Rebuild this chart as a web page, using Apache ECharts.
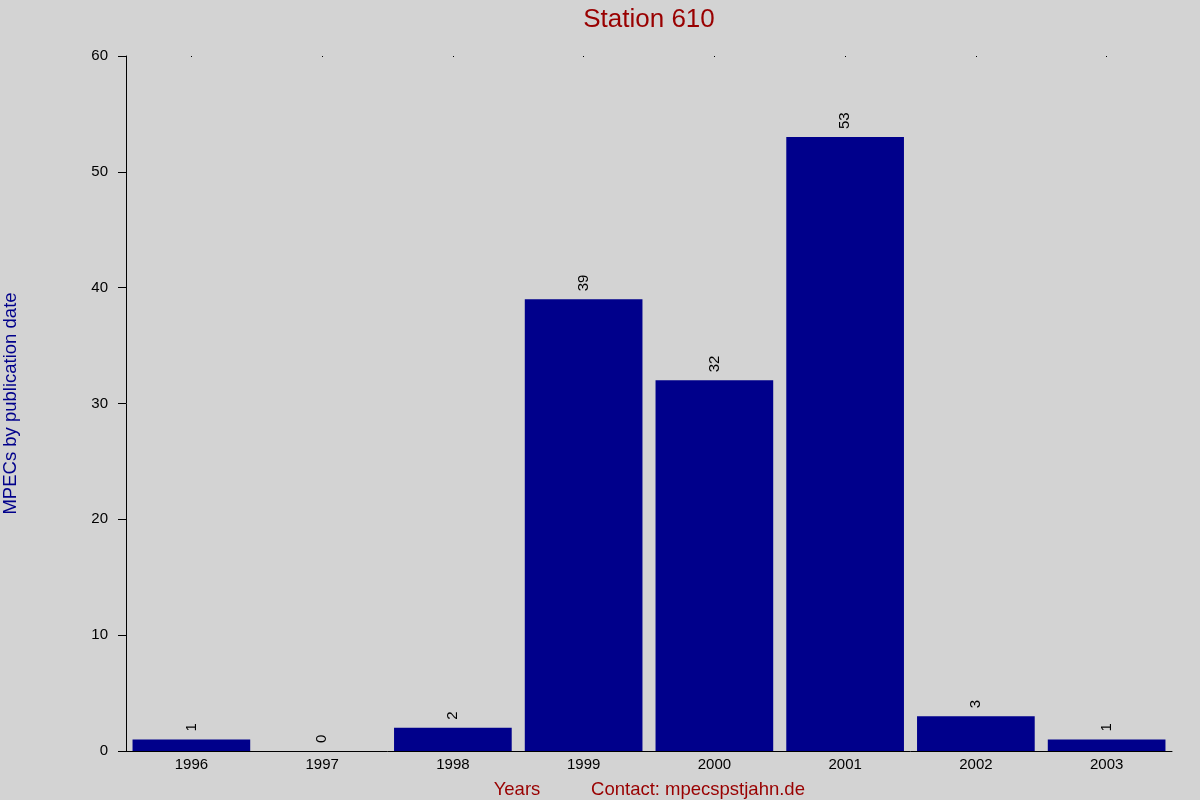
<!DOCTYPE html>
<html><head><meta charset="utf-8">
<script src="https://cdn.jsdelivr.net/npm/echarts@6/dist/echarts.min.js"></script>
<style>html,body{margin:0;padding:0;background:#d3d3d3}#c{width:1200px;height:800px}</style>
</head><body><div id="c"></div>
<script>
const categories = ['1996','1997','1998','1999','2000','2001','2002','2003'];
const values = [1, 0, 2, 39, 32, 53, 3, 1];
const titleText = 'Station 610';
const yName = 'MPECs by publication date';
const xName = 'Years';
const contact = 'Contact: mpecspstjahn.de';

const FF = 'Liberation Sans, Arial, sans-serif';
const chart = echarts.init(document.getElementById('c'));
chart.setOption({
  backgroundColor: '#d3d3d3',
  animation: false,
  textStyle: {fontFamily: FF},
  title: [
    {text: titleText, left: 644, top: 2, textAlign: 'center', textStyle: {color: '#990000', fontSize: 26, fontWeight: 'normal', fontFamily: FF}},
    {text: xName, left: 512, top: 775, textAlign: 'center', textStyle: {color: '#990000', fontSize: 18.5, fontWeight: 'normal', fontFamily: FF}},
    {text: contact, left: 693, top: 775, textAlign: 'center', textStyle: {color: '#990000', fontSize: 18.5, fontWeight: 'normal', fontFamily: FF}}
  ],
  grid: {left: 126, right: 28, top: 56, bottom: 49, containLabel: false, outerBoundsMode: 'none'},
  xAxis: [
    {type: 'category', data: categories, position: 'bottom',
     axisLine: {show: true, lineStyle: {color: '#000', width: 1}},
     axisTick: {show: false},
     axisLabel: {color: '#000', fontSize: 15, margin: 6, fontFamily: FF}},
    {type: 'category', data: categories, position: 'top',
     axisLine: {show: false},
     axisTick: {show: true, alignWithLabel: true, inside: true, length: 1, lineStyle: {color: '#000'}},
     axisLabel: {show: false}}
  ],
  yAxis: {
    type: 'value', min: 0, max: 60, interval: 10,
    name: yName, nameLocation: 'middle', nameGap: 106, nameRotate: 90,
    nameTextStyle: {color: '#00008b', fontSize: 18.5, fontFamily: FF},
    axisLine: {show: true, lineStyle: {color: '#000', width: 1}},
    axisTick: {show: true, length: 8, lineStyle: {color: '#000'}},
    axisLabel: {color: '#000', fontSize: 15, margin: 18, fontFamily: FF},
    splitLine: {show: false}
  },
  series: [{
    type: 'bar', data: values, xAxisIndex: 0,
    barCategoryGap: '10%',
    itemStyle: {color: '#00008b'},
    label: {show: true, position: 'top', rotate: 90, align: 'left', verticalAlign: 'middle', distance: 8,
            color: '#000', fontSize: 15, fontFamily: FF}
  }]
});
</script></body></html>
